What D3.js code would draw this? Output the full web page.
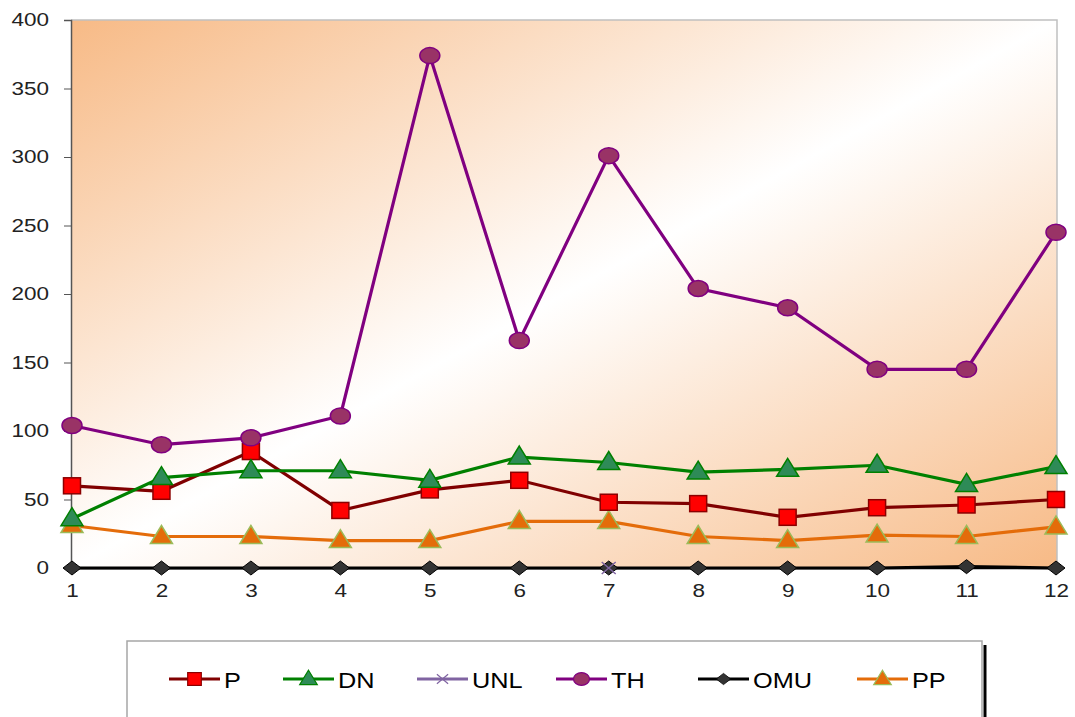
<!DOCTYPE html>
<html><head><meta charset="utf-8">
<script src="https://cdn.jsdelivr.net/npm/d3@7"></script>
<style>body{margin:0;background:#fff}svg{display:block}</style>
</head><body>
<script>
const categories = [1,2,3,4,5,6,7,8,9,10,11,12];
const P   = [60,56,85,42,57,64,48,47,37,44,46,50];
const DN  = [36,66,71,71,64,81,77,70,72,75,61,74];
const UNL = [null,null,null,null,null,null,0,null,null,null,null,null];
const TH  = [104,90,95,111,374,166,301,204,190,145,145,245];
const OMU = [0,0,0,0,0,0,0,0,0,0,1,0];
const PP  = [31,23,23,20,20,34,34,23,20,24,23,30];
const yTicks = [0,50,100,150,200,250,300,350,400];

const series = [
  {name:"P", values:P, line:"#800000", marker:"square", fill:"#ff0000", stroke:"#8b0000"},
  {name:"DN", values:DN, line:"#008000", marker:"triangle", fill:"#2e8b57", stroke:"#008000"},
  {name:"UNL", values:UNL, line:"#8064a2", marker:"x", fill:"none", stroke:"#8064a2"},
  {name:"TH", values:TH, line:"#800080", marker:"circle", fill:"#993366", stroke:"#800080"},
  {name:"OMU", values:OMU, line:"#000000", marker:"diamond", fill:"#333333", stroke:"#000000"},
  {name:"PP", values:PP, line:"#e46c0a", marker:"triangle", fill:"#e46c0a", stroke:"#9bbb59"}
];

const W=1075,H=717;
const m={l:71,t:20,r:1057,b:568};
const svg=d3.select("body").append("svg").attr("width",W).attr("height",H);
const defs=svg.append("defs");
const g=defs.append("linearGradient").attr("id","bg").attr("x1",0).attr("y1",0).attr("x2",1).attr("y2",1);
g.append("stop").attr("offset","0%").attr("stop-color","#f7ba86");
g.append("stop").attr("offset","50%").attr("stop-color","#ffffff");
g.append("stop").attr("offset","100%").attr("stop-color","#f7ba86");

const x=d3.scalePoint().domain(categories).range([m.l+1,m.r-1]);
const y=d3.scaleLinear().domain([0,400]).range([m.b,m.t]);

svg.append("rect").attr("x",m.l).attr("y",m.t).attr("width",m.r-m.l).attr("height",m.b-m.t)
  .attr("fill","url(#bg)");
svg.append("path").attr("d",`M${m.l},${m.t}H${m.r}V${m.b}`).attr("fill","none").attr("stroke","#c0c0c0").attr("stroke-width",1.5);

const SX=1.25;
// y axis
const ya=svg.append("g").attr("transform",`translate(${m.l},0)`)
  .call(d3.axisLeft(y).tickValues(yTicks).tickSize(7).tickFormat(d3.format("d")));
ya.select(".domain").attr("stroke","#555").attr("stroke-width",1.5);
ya.selectAll(".tick line").attr("stroke","#555");
ya.selectAll("text").attr("font-family","Liberation Sans, Arial, sans-serif").attr("font-size",18).attr("fill","#222")
  .attr("x",-22/SX).attr("transform",`scale(${SX},1)`);

// x axis
const xa=svg.append("g").attr("transform",`translate(0,${m.b})`)
  .call(d3.axisBottom(x).tickSize(0).tickPadding(16));
xa.select(".domain").attr("stroke","#000").attr("stroke-width",1.5);
xa.selectAll("text").attr("font-family","Liberation Sans, Arial, sans-serif").attr("font-size",18).attr("fill","#222")
  .attr("transform",`scale(${SX},1)`);

function marker(sel, type, fill, stroke){
  if(type==="square") sel.append("rect").attr("x",-8.5).attr("y",-8).attr("width",17).attr("height",16).attr("fill",fill).attr("stroke",stroke).attr("stroke-width",1.5);
  else if(type==="triangle") sel.append("path").attr("d","M0,-11L11,7L-11,7Z").attr("fill",fill).attr("stroke",stroke).attr("stroke-width",1.5);
  else if(type==="circle") sel.append("ellipse").attr("rx",10).attr("ry",8).attr("fill",fill).attr("stroke",stroke).attr("stroke-width",1.5);
  else if(type==="diamond") sel.append("path").attr("d","M0,-7L9,0L0,7L-9,0Z").attr("fill",fill).attr("stroke",stroke).attr("stroke-width",1);
  else if(type==="x") sel.append("path").attr("d","M-7,-6L7,6M-7,6L7,-6").attr("stroke",stroke).attr("stroke-width",1.5);
}

const line=d3.line().defined(d=>d.v!=null).x(d=>x(d.c)).y(d=>y(d.v));
const order=[4,5,0,1,2,3];
order.forEach(i=>{
  const s=series[i];
  const pts=categories.map((c,j)=>({c,v:s.values[j]}));
  svg.append("path").datum(pts).attr("d",line).attr("fill","none").attr("stroke",s.line).attr("stroke-width",3.2);
});
order.forEach(i=>{
  const s=series[i];
  const pts=categories.map((c,j)=>({c,v:s.values[j]})).filter(d=>d.v!=null);
  pts.forEach(d=>{
    const gg=svg.append("g").attr("transform",`translate(${x(d.c)},${y(d.v)})`);
    marker(gg,s.marker,s.fill,s.stroke);
  });
});

// legend
svg.append("line").attr("x1",985).attr("x2",985).attr("y1",645).attr("y2",717).attr("stroke","#000").attr("stroke-width",3);
svg.append("rect").attr("x",127).attr("y",641).attr("width",855).attr("height",90).attr("fill","#fff").attr("stroke","#a6a6a6").attr("stroke-width",1.5);
const lx=[169,283,417,556,698,857];
series.forEach((s,i)=>{
  const lg=svg.append("g").attr("transform",`translate(${lx[i]},679)`);
  lg.append("line").attr("x1",0).attr("x2",51).attr("stroke",s.line).attr("stroke-width",3.2);
  const mg=lg.append("g").attr("transform","translate(25.5,0) scale(0.8)");
  marker(mg,s.marker,s.fill,s.stroke);
  lg.append("text").attr("transform","translate(55,8.5) scale(1.15,1)").attr("font-family","Liberation Sans, Arial, sans-serif").attr("font-size",22).attr("fill","#000").text(s.name);
});
</script>
</body></html>
